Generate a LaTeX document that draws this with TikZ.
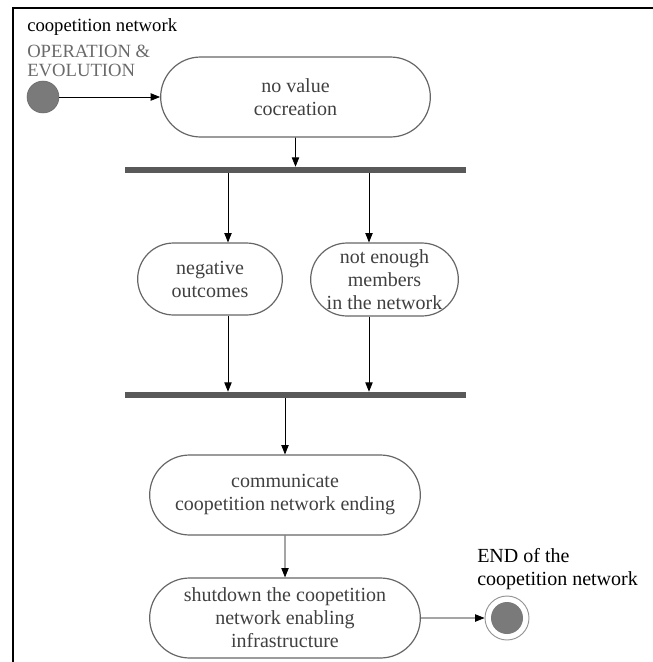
\documentclass[tikz,border=0pt]{standalone}
\usepackage{fontspec}
\setmainfont{Liberation Serif}
\usetikzlibrary{arrows.meta,shapes.misc}
\definecolor{activity}{HTML}{404040}
\definecolor{edge}{HTML}{666666}
\definecolor{syncbar}{HTML}{595959}
\definecolor{dot}{HTML}{7A7A7A}
\definecolor{phase}{HTML}{6A6A6A}
\begin{document}
\begin{tikzpicture}[x=0.75pt,y=-0.75pt,>={Triangle[length=7pt,width=5.5pt]},
act/.style={rounded rectangle,draw=edge,line width=0.9pt,align=center,text=activity,
  font=\fontsize{15}{17.25}\selectfont,inner sep=2pt},
bar/.style={rectangle,fill=syncbar,minimum width=255.75pt,minimum height=4.5pt,inner sep=0pt},
startdot/.style={circle,fill=dot,draw=dot!85!black,minimum size=24pt,inner sep=0pt},
enddot/.style={circle,draw=edge!70,line width=0.7pt,fill=white,minimum size=33pt,inner sep=0pt,
  path picture={\fill[dot] (path picture bounding box.center) circle (12pt);}},
flow/.style={->,black,line width=0.6pt},
lbl/.style={anchor=base west,inner sep=0pt,font=\fontsize{14}{14.25}\selectfont}]
\useasboundingbox (0,0) rectangle (653,662);
\draw[line width=1.6pt] (13,662) -- (13,8) -- (653,8);
\node[lbl] (title) at (27,31) {coopetition network};
\node[lbl,text=phase] (phase1) at (27,57) {OPERATION \&};
\node[lbl,text=phase] (phase2) at (27,76) {EVOLUTION};
\node[startdot] (start) at (43,97) {};
\node[act,minimum width=206.25pt,minimum height=60pt] (cocreation) at (295.5,97) {no value\\cocreation};
\node[bar] (fork) at (295.5,170) {};
\node[act,minimum width=112.5pt,minimum height=54pt] (neg) at (210,279) {negative\\outcomes};
\node[act,minimum width=114.75pt,minimum height=54.75pt] (members) at (384.5,279.5) {not enough\\members\\in the network};
\node[bar] (join) at (295.5,395) {};
\node[act,minimum width=207pt,minimum height=60pt] (comm) at (285,495) {communicate\\coopetition network ending};
\node[act,minimum width=207pt,minimum height=60pt] (shut) at (285,618) {shutdown the coopetition\\network enabling\\infrastructure};
\node[enddot] (end) at (507,618) {};
\node[anchor=west,inner sep=0pt,align=left,font=\fontsize{15}{17.25}\selectfont] (endlbl) at (477,569) {END of the\\coopetition network};
\coordinate (lane1) at (228,0);
\coordinate (lane2) at (369,0);
\draw[flow] (start) -- (cocreation);
\draw[flow] (cocreation) -- (fork);
\draw[flow] (fork.south -| lane1) -- (neg.north -| lane1);
\draw[flow] (fork.south -| lane2) -- (members.north -| lane2);
\draw[flow] (neg.south -| lane1) -- (join.north -| lane1);
\draw[flow] (members.south -| lane2) -- (join.north -| lane2);
\draw[flow] (join.south -| comm.north) -- (comm.north);
\draw[flow] (comm) -- (shut);
\draw[flow] (shut) -- (end);
\end{tikzpicture}
\end{document}
